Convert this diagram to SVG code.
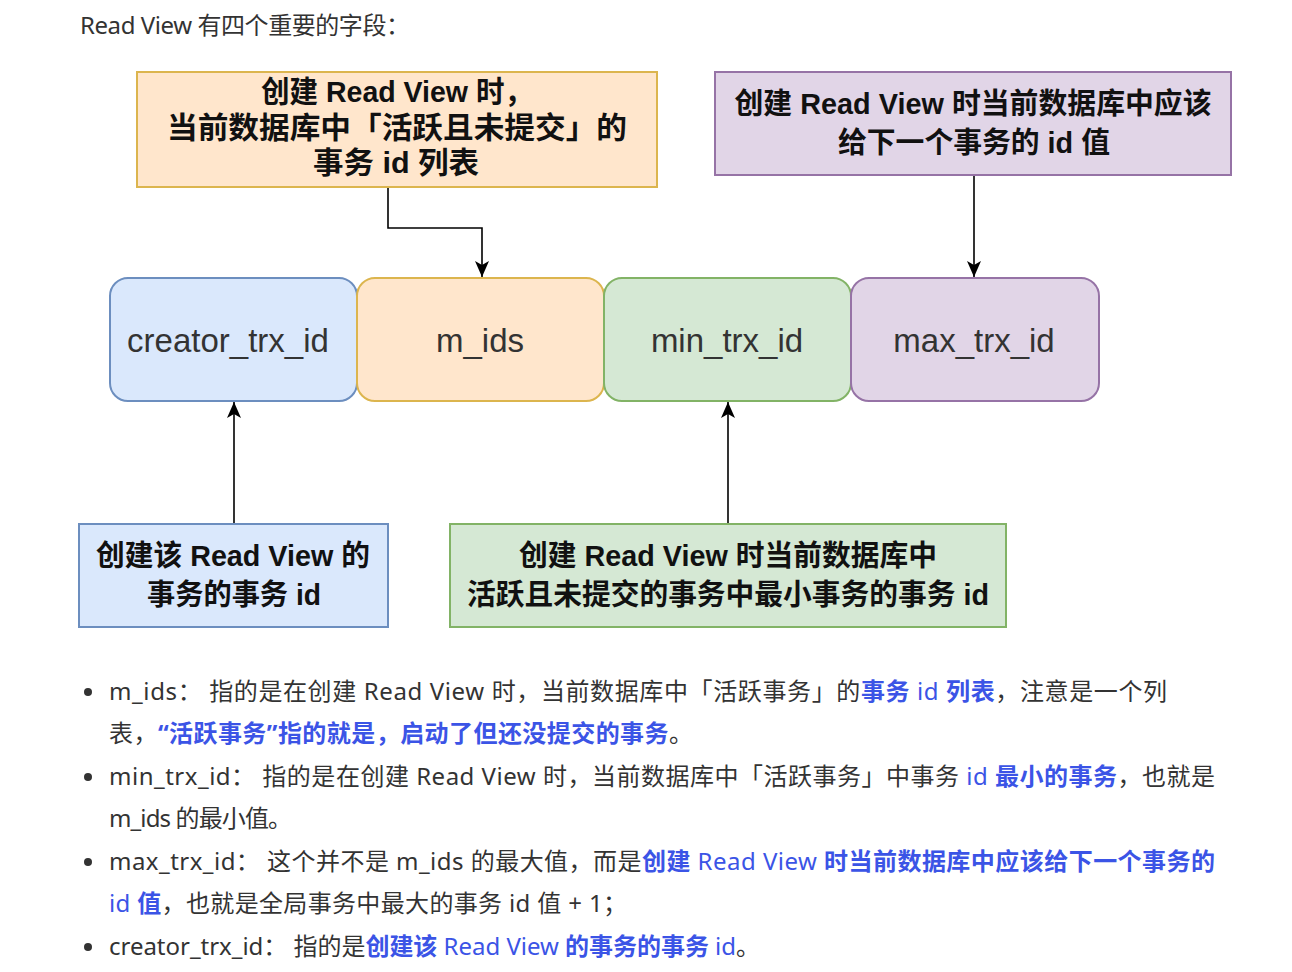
<svg xmlns="http://www.w3.org/2000/svg" width="1292" height="972" viewBox="0 0 1292 972">
<style>
.note{stroke-width:2}
.dt{font-family:"Liberation Sans","Noto Sans CJK SC",sans-serif;font-weight:700;font-size:29px;fill:#111;text-anchor:middle}
.big{font-size:30px}
.ft{font-family:"Liberation Sans","Noto Sans CJK SC",sans-serif;font-size:33px;fill:#333;text-anchor:middle}
.t{font-family:"Noto Sans","Noto Sans CJK SC",sans-serif;font-size:24px;fill:#333}
.b{fill:#3b54e6;font-weight:700}
.bl{fill:#3b54e6}
.yel{fill:#ffe6cc;stroke:#dcb54e}
.pur{fill:#e1d5e7;stroke:#9673a6}
.blu{fill:#dae8fc;stroke:#6c8ebf}
.grn{fill:#d5e8d4;stroke:#82b366}
.conn{fill:none;stroke:#000;stroke-width:1.6}
</style>
<defs>
<marker id="arr" markerUnits="userSpaceOnUse" viewBox="0 0 16 14" refX="16" refY="7" markerWidth="16" markerHeight="14" orient="auto">
<path d="M0,0 L16,7 L0,14 L4,7 Z" fill="#000"/>
</marker>
</defs>
<rect width="1292" height="972" fill="#fff"/>
<text class="t" x="80" y="34" textLength="330" lengthAdjust="spacing">Read View 有四个重要的字段：</text>

<g id="note-mids">
<rect class="yel note" x="137" y="72" width="520" height="115"/>
<text class="dt big" x="397" y="102" textLength="272" lengthAdjust="spacingAndGlyphs">创建 Read View 时，</text>
<text class="dt big" x="397" y="138" textLength="460" lengthAdjust="spacingAndGlyphs">当前数据库中「活跃且未提交」的</text>
<text class="dt big" x="396" y="173" textLength="166" lengthAdjust="spacingAndGlyphs">事务 id 列表</text>
</g>
<g id="note-max">
<rect class="pur note" x="715" y="72" width="516" height="103"/>
<text class="dt" x="973" y="114" textLength="477" lengthAdjust="spacingAndGlyphs">创建 Read View 时当前数据库中应该</text>
<text class="dt" x="974" y="153" textLength="272" lengthAdjust="spacingAndGlyphs">给下一个事务的 id 值</text>
</g>
<g id="field-creator">
<rect class="blu note" x="110" y="278" width="247" height="123" rx="18"/>
<text class="ft" x="228" y="352">creator_trx_id</text>
</g>
<g id="field-mids">
<rect class="yel note" x="357" y="278" width="247" height="123" rx="18"/>
<text class="ft" x="480" y="352">m_ids</text>
</g>
<g id="field-min">
<rect class="grn note" x="604" y="278" width="247" height="123" rx="18"/>
<text class="ft" x="727" y="352">min_trx_id</text>
</g>
<g id="field-max">
<rect class="pur note" x="851" y="278" width="248" height="123" rx="18"/>
<text class="ft" x="974" y="352">max_trx_id</text>
</g>
<g id="note-creator">
<rect class="blu note" x="79" y="524" width="309" height="103"/>
<text class="dt" x="233" y="566" textLength="274" lengthAdjust="spacingAndGlyphs">创建该 Read View 的</text>
<text class="dt" x="234" y="605" textLength="174" lengthAdjust="spacingAndGlyphs">事务的事务 id</text>
</g>
<g id="note-min">
<rect class="grn note" x="450" y="524" width="556" height="103"/>
<text class="dt" x="728" y="566" textLength="418" lengthAdjust="spacingAndGlyphs">创建 Read View 时当前数据库中</text>
<text class="dt" x="728" y="605" textLength="522" lengthAdjust="spacingAndGlyphs">活跃且未提交的事务中最小事务的事务 id</text>
</g>

<g id="connectors">
<path class="conn" d="M388,188 V228 H482 V277" marker-end="url(#arr)"/>
<path class="conn" d="M974,176 V277" marker-end="url(#arr)"/>
<path class="conn" d="M234,523 V402" marker-end="url(#arr)"/>
<path class="conn" d="M728,523 V402" marker-end="url(#arr)"/>
</g>

<g id="list">
<circle cx="88" cy="692" r="4" fill="#333"/>
<circle cx="88" cy="777" r="4" fill="#333"/>
<circle cx="88" cy="862" r="4" fill="#333"/>
<circle cx="88" cy="947" r="4" fill="#333"/>
<text class="t" x="109" y="700" textLength="1058" lengthAdjust="spacing">m_ids： 指的是在创建 Read View 时，当前数据库中「活跃事务」的<tspan class="b">事务</tspan><tspan class="bl"> id </tspan><tspan class="b">列表</tspan>，注意是一个列</text>
<text class="t" x="109" y="742" textLength="584" lengthAdjust="spacing">表，<tspan class="b">“活跃事务”指的就是，启动了但还没提交的事务</tspan>。</text>
<text class="t" x="109" y="785" textLength="1106" lengthAdjust="spacing">min_trx_id： 指的是在创建 Read View 时，当前数据库中「活跃事务」中事务 <tspan class="bl">id</tspan> <tspan class="b">最小的事务</tspan>，也就是</text>
<text class="t" x="109" y="827" textLength="183" lengthAdjust="spacing">m_ids 的最小值。</text>
<text class="t" x="109" y="870" textLength="1106" lengthAdjust="spacing">max_trx_id： 这个并不是 m_ids 的最大值，而是<tspan class="b">创建</tspan><tspan class="bl"> Read View </tspan><tspan class="b">时当前数据库中应该给下一个事务的</tspan></text>
<text class="t" x="109" y="912" textLength="518" lengthAdjust="spacing"><tspan class="bl">id </tspan><tspan class="b">值</tspan>，也就是全局事务中最大的事务 id 值 + 1；</text>
<text class="t" x="109" y="955" textLength="651" lengthAdjust="spacing">creator_trx_id： 指的是<tspan class="b">创建该</tspan><tspan class="bl"> Read View </tspan><tspan class="b">的事务的事务</tspan><tspan class="bl"> id</tspan>。</text>
</g>
</svg>
